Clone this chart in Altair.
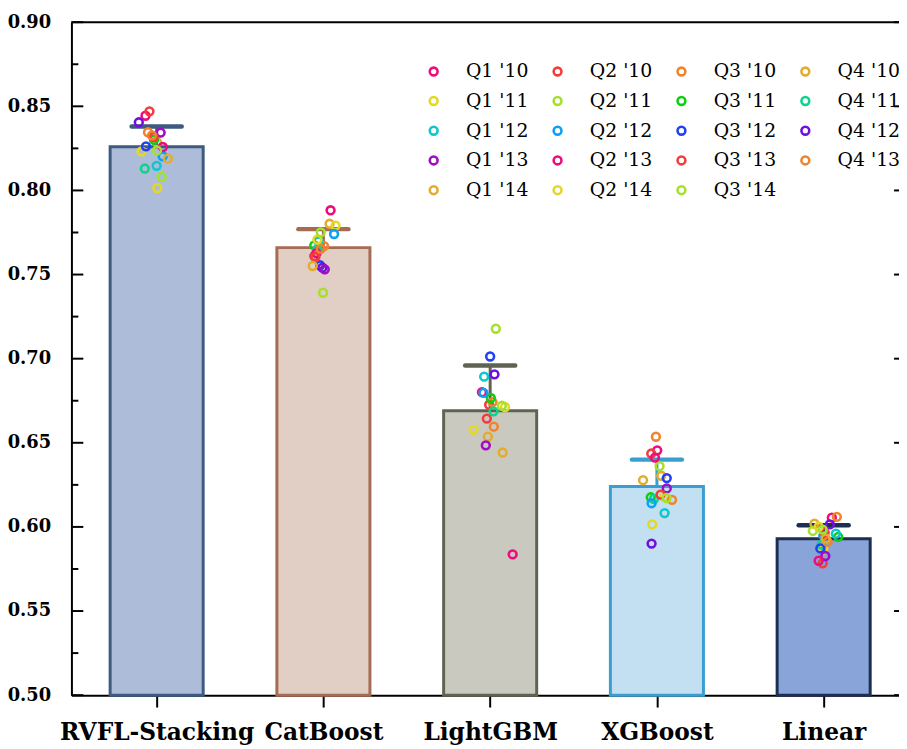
import altair as alt
import pandas as pd

models = ["RVFL-Stacking", "CatBoost", "LightGBM", "XGBoost", "Linear"]
bar_mean = [0.826, 0.766, 0.669, 0.624, 0.593]
err_upper = [0.838, 0.777, 0.696, 0.640, 0.601]
bar_fill = ["#adbdd9", "#e1cfc5", "#c9c9c0", "#c2e0f1", "#88a4d8"]
bar_stroke = ["#3d5a80", "#a66b55", "#5f6352", "#3a9ed0", "#1e2d52"]

quarters = ["Q1 '10", "Q2 '10", "Q3 '10", "Q4 '10",
            "Q1 '11", "Q2 '11", "Q3 '11", "Q4 '11",
            "Q1 '12", "Q2 '12", "Q3 '12", "Q4 '12",
            "Q1 '13", "Q2 '13", "Q3 '13", "Q4 '13",
            "Q1 '14", "Q2 '14", "Q3 '14"]
quarter_colors = ["#ec0c7c", "#f43c3c", "#f0842c", "#e4ac2c",
                  "#e4d824", "#a4e02c", "#0cd00c", "#0cd48c",
                  "#0cc8cc", "#0ca0f4", "#2040f4", "#7010dc",
                  "#a00cc4", "#ec0c7c", "#f43c3c", "#f0842c",
                  "#e4ac2c", "#e4d824", "#a4e02c"]

scores_rvfl = [0.8444, 0.8470, 0.8346, 0.8287, 0.8232, 0.8081, 0.8301, 0.8130, 0.8146, 0.8203,
               0.8262, 0.8405, 0.8344, 0.8258, 0.8317, 0.8327, 0.8189, 0.8014, 0.8238]
scores_cat = [0.7882, 0.7610, 0.7669, 0.7802, 0.7791, 0.7392, 0.7673, 0.7651, 0.7698, 0.7741,
              0.7555, 0.7541, 0.7531, 0.7627, 0.7604, 0.7653, 0.7551, 0.7708, 0.7751]
scores_lgbm = [0.6801, 0.6726, 0.6742, 0.6536, 0.6713, 0.7178, 0.6766, 0.6687, 0.6893, 0.6797,
               0.7013, 0.6907, 0.6485, 0.5837, 0.6644, 0.6596, 0.6442, 0.6577, 0.6720]
scores_xgb = [0.6455, 0.6436, 0.6536, 0.6304, 0.6180, 0.6361, 0.6176, 0.6166, 0.6082, 0.6141,
              0.6290, 0.5901, 0.6229, 0.6412, 0.6192, 0.6161, 0.6278, 0.6015, 0.6172]
scores_lin = [0.6055, 0.5784, 0.6060, 0.6019, 0.5866, 0.5976, 0.5941, 0.5895, 0.5960, 0.5948,
              0.5872, 0.6015, 0.5827, 0.5799, 0.5966, 0.5911, 0.5931, 0.6001, 0.5984]

jit_rvfl = [-0.067, -0.043, -0.052, 0.002, -0.091, 0.030, -0.016, -0.071, 0.0, 0.036,
            -0.064, -0.107, 0.024, 0.037, -0.018, -0.028, 0.067, 0.004, 0.002]
jit_cat = [0.043, -0.055, 0.004, 0.037, 0.073, -0.002, -0.055, -0.036, -0.030, 0.064,
           -0.020, -0.006, 0.008, -0.042, -0.048, -0.016, -0.064, -0.036, -0.016]
jit_lgbm = [-0.049, -0.006, 0.014, -0.014, 0.089, 0.034, 0.004, 0.020, -0.036, -0.040,
            0.0, 0.026, -0.026, 0.135, -0.020, 0.022, 0.075, -0.099, 0.070]
jit_xgb = [0.002, -0.034, -0.006, 0.026, 0.042, 0.016, -0.037, -0.018, 0.046, -0.032,
           0.059, -0.032, 0.059, -0.012, 0.022, 0.091, -0.083, -0.028, 0.058]
jit_lin = [0.049, -0.006, 0.079, -0.055, -0.002, -0.065, 0.087, -0.012, 0.073, -0.002,
           -0.020, 0.037, 0.010, -0.030, 0.006, 0.024, 0.012, -0.030, -0.006]

y_ticks = [0.50, 0.55, 0.60, 0.65, 0.70, 0.75, 0.80, 0.85, 0.90]
y_minor = [0.525, 0.575, 0.625, 0.675, 0.725, 0.775, 0.825, 0.875]

W, H = 835, 679
X_DOMAIN = [-0.5111, 4.4518]
Y_DOMAIN = [0.5, 0.9]
FONT = "DejaVu Serif"

bars = pd.DataFrame({"i": list(range(5)), "model": models, "mean": bar_mean,
                     "upper": err_upper, "fill": bar_fill, "stroke": bar_stroke})

all_scores = [scores_rvfl, scores_cat, scores_lgbm, scores_xgb, scores_lin]
all_jit = [jit_rvfl, jit_cat, jit_lgbm, jit_xgb, jit_lin]
rows = []
for mi in range(5):
    for qi, q in enumerate(quarters):
        rows.append({"i": mi, "jit": all_jit[mi][qi], "score": all_scores[mi][qi],
                     "quarter": q, "order": qi})
pts = pd.DataFrame(rows)

xs = alt.Scale(domain=X_DOMAIN, nice=False, zero=False)
ys = alt.Scale(domain=Y_DOMAIN, nice=False, zero=False)

label_expr = "[" + ",".join("'" + m + "'" for m in models) + "][datum.value]"

x_axis = alt.Axis(values=[0, 1, 2, 3, 4], labelExpr=label_expr, title=None, grid=False,
                  tickSize=12, tickWidth=2, tickColor="black", domainColor="black",
                  domainWidth=2, labelFont=FONT, labelFontWeight="bold",
                  labelFontSize=23.5, labelColor="black", labelPadding=14,
                  labelFlush=False, labelOverlap=False, labelLimit=400)
y_axis = alt.Axis(values=y_ticks, format=".2f", title=None, grid=False, ticks=False,
                  domainColor="black", domainWidth=2, labelFont=FONT,
                  labelFontWeight="bold", labelFontSize=18, labelColor="black",
                  labelPadding=21, labelFlush=False, labelOverlap=False)

base_bar = alt.Chart(bars).transform_calculate(
    x1="datum.i - 0.279", x2="datum.i + 0.279",
    c1="datum.i - 0.15", c2="datum.i + 0.15")

bar_layer = base_bar.mark_bar(strokeWidth=3).encode(
    x=alt.X("x1:Q", scale=xs, axis=x_axis),
    x2="x2:Q",
    y=alt.Y("mean:Q", scale=ys, axis=y_axis),
    y2=alt.datum(0.5),
    fill=alt.Fill("fill:N", scale=None),
    stroke=alt.Stroke("stroke:N", scale=None),
)

err_line = base_bar.mark_rule(strokeWidth=3).encode(
    x=alt.X("i:Q", scale=xs, title=None),
    y=alt.Y("mean:Q", scale=ys, title=None),
    y2="upper:Q",
    stroke=alt.Stroke("stroke:N", scale=None),
)
err_cap = base_bar.mark_rule(strokeWidth=4.5, strokeCap="round").encode(
    x=alt.X("c1:Q", scale=xs, title=None),
    x2="c2:Q",
    y=alt.Y("upper:Q", scale=ys, title=None),
    stroke=alt.Stroke("stroke:N", scale=None),
)

points = alt.Chart(pts).transform_calculate(xp="datum.i + datum.jit").mark_point(
    filled=False, shape="circle", size=62, strokeWidth=2.6, opacity=1
).encode(
    x=alt.X("xp:Q", scale=xs, title=None),
    y=alt.Y("score:Q", scale=ys, title=None),
    color=alt.Color("quarter:N", scale=alt.Scale(domain=quarters, range=quarter_colors),
                    sort=quarters,
                    legend=alt.Legend(orient="none", legendX=356, legendY=40, columns=4,
                                      direction="horizontal",
                                      title=None, symbolType="circle", symbolSize=62,
                                      symbolStrokeWidth=2.6, labelFont=FONT,
                                      labelFontSize=19, labelColor="black", labelOffset=23,
                                      columnPadding=19, rowPadding=10, labelLimit=200)),
    order=alt.Order("order:Q"),
)

tick_major = alt.Chart(pd.DataFrame({"v": y_ticks})).mark_rule(
    color="black", strokeWidth=2).encode(
    y=alt.Y("v:Q", scale=ys, title=None), x=alt.value(0), x2=alt.value(12))
tick_minor = alt.Chart(pd.DataFrame({"v": y_minor})).mark_rule(
    color="black", strokeWidth=2).encode(
    y=alt.Y("v:Q", scale=ys, title=None), x=alt.value(0), x2=alt.value(7))
tick_right = alt.Chart(pd.DataFrame({"v": y_ticks})).mark_rule(
    color="black", strokeWidth=2).encode(
    y=alt.Y("v:Q", scale=ys, title=None), x=alt.value(W - 5), x2=alt.value(W))
top_line = alt.Chart(pd.DataFrame({"v": [0.9]})).mark_rule(
    color="black", strokeWidth=2).encode(
    y=alt.Y("v:Q", scale=ys, title=None), x=alt.value(0), x2=alt.value(W))

chart = alt.layer(
    bar_layer, err_line, err_cap, tick_major, tick_minor, tick_right, top_line, points
).properties(
    width=W, height=H,
    autosize=alt.AutoSizeParams(type="none"),
    padding={"left": 64, "top": 11, "right": 0, "bottom": 50},
    background="white",
).configure_view(stroke=None)

chart.save("out.html", embed_options={"renderer": "svg", "actions": False})
